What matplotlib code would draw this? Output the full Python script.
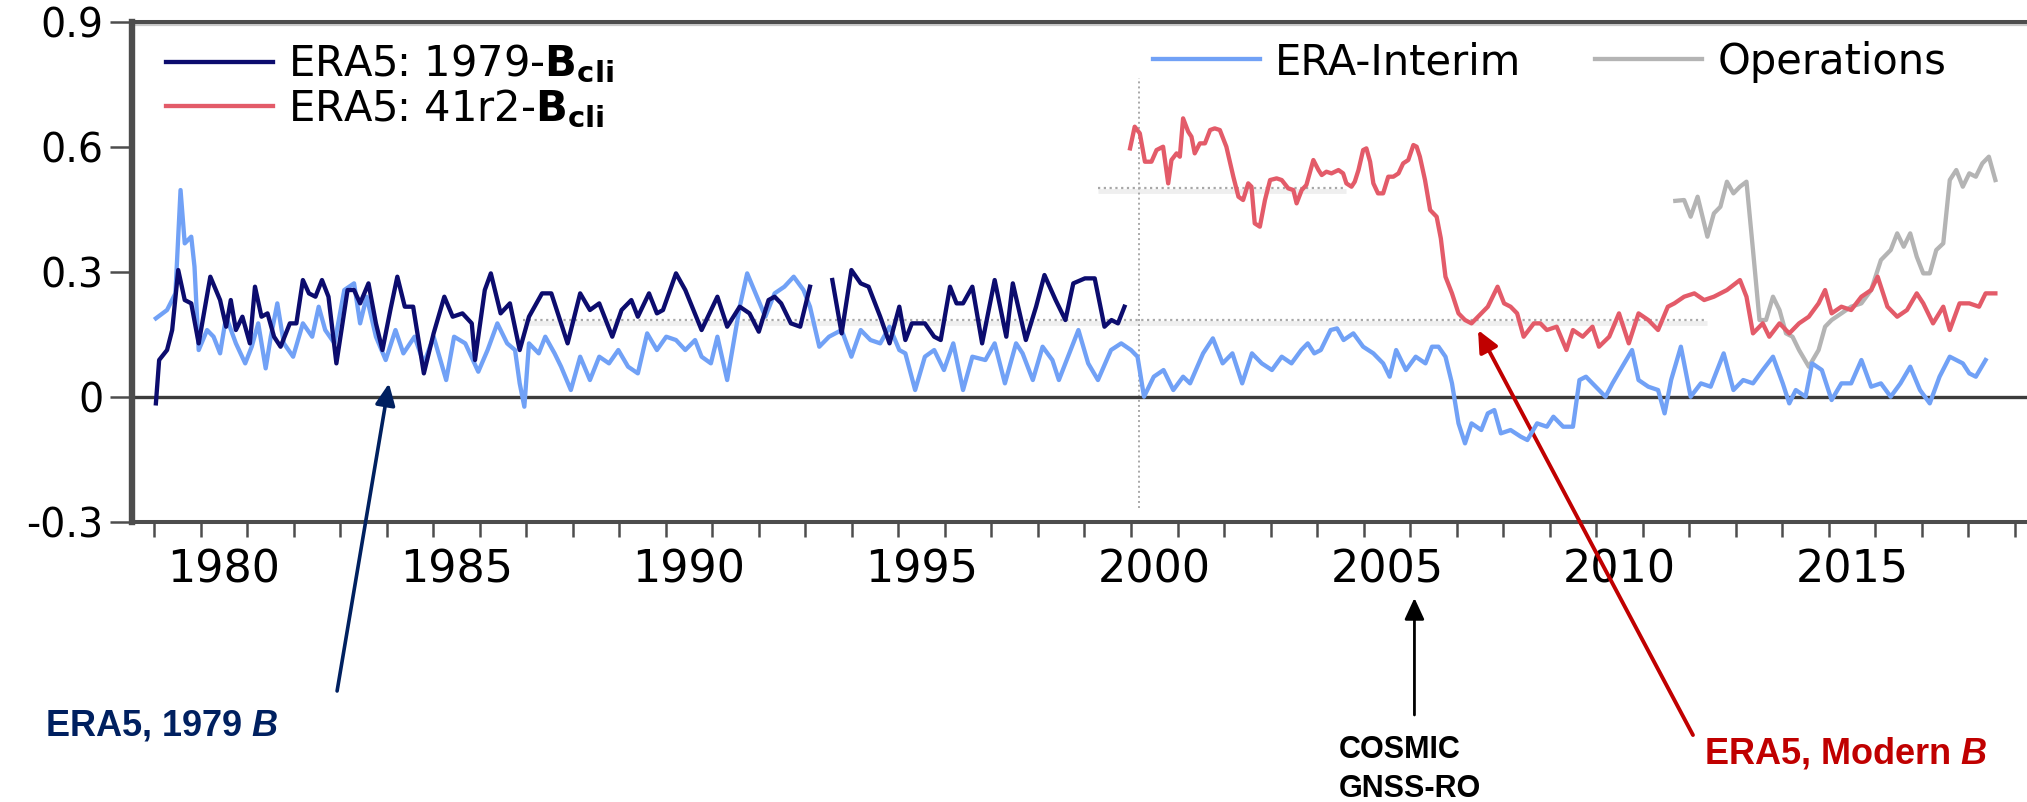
import numpy as np
import matplotlib
matplotlib.use("Agg")
import matplotlib.pyplot as plt

# ---------------------------------------------------------------------------
# Global-mean series (decimal year, value)
# ---------------------------------------------------------------------------
# ERA5 run with the 1979 climatological background-error covariances
era5_1979_year = [
    1979.04, 1979.11, 1979.28, 1979.39, 1979.52, 1979.66, 1979.80, 1979.96,
    1980.21, 1980.42, 1980.55, 1980.65, 1980.76, 1980.90, 1981.06, 1981.17,
    1981.31, 1981.44, 1981.58, 1981.72, 1981.92, 1982.06, 1982.20, 1982.33,
    1982.47, 1982.61, 1982.75, 1982.92, 1983.16, 1983.30, 1983.43, 1983.61,
    1983.77, 1983.91, 1984.08, 1984.23, 1984.39, 1984.57, 1984.80, 1985.01,
    1985.24, 1985.42, 1985.63, 1985.83, 1985.90, 1986.11, 1986.24, 1986.45,
    1986.65, 1986.86, 1987.06, 1987.34, 1987.54, 1987.89, 1988.16, 1988.37,
    1988.57, 1988.85, 1989.05, 1989.26, 1989.40, 1989.64, 1989.81, 1989.94,
    1990.22, 1990.42, 1990.77, 1991.11, 1991.32, 1991.59, 1991.80, 1992.00,
    1992.21, 1992.34, 1992.48, 1992.69, 1992.89, 1993.10, 1993.30, 1993.58,
    1993.78, 1993.99, 1994.19, 1994.36, 1994.61, 1994.81, 1995.02, 1995.15,
    1995.29, 1995.57, 1995.77, 1995.91, 1996.11, 1996.25, 1996.39, 1996.59,
    1996.80, 1997.07, 1997.32, 1997.46, 1997.74, 1997.96, 1998.14, 1998.38,
    1998.59, 1998.76, 1999.01, 1999.22, 1999.43, 1999.58, 1999.72, 1999.86,
]
era5_1979_value = [
    -0.016, 0.088, 0.112, 0.160, 0.304, 0.232, 0.224, 0.128,
    0.288, 0.232, 0.168, 0.232, 0.160, 0.192, 0.128, 0.264,
    0.192, 0.200, 0.144, 0.120, 0.176, 0.176, 0.280, 0.248,
    0.240, 0.280, 0.240, 0.080, 0.256, 0.256, 0.224, 0.272,
    0.176, 0.112, 0.208, 0.288, 0.216, 0.216, 0.056, 0.152,
    0.240, 0.192, 0.200, 0.176, 0.088, 0.256, 0.296, 0.200,
    0.224, 0.112, 0.192, 0.248, 0.248, 0.128, 0.248, 0.208,
    0.224, 0.144, 0.208, 0.232, 0.192, 0.248, 0.200, 0.208,
    0.296, 0.256, 0.160, 0.240, 0.168, 0.216, 0.200, 0.156,
    0.232, 0.240, 0.224, 0.176, 0.168, 0.264, np.nan, 0.280,
    0.152, 0.304, 0.272, 0.264, 0.192, 0.128, 0.216, 0.136,
    0.176, 0.176, 0.144, 0.136, 0.264, 0.224, 0.224, 0.264,
    0.128, 0.280, 0.144, 0.272, 0.136, 0.216, 0.292, 0.232,
    0.184, 0.272, 0.284, 0.284, 0.168, 0.184, 0.176, 0.216,
]

# ERA5 run with the modern (41r2) climatological covariances
era5_41r2_year = [
    1999.98, 2000.08, 2000.19, 2000.30, 2000.44, 2000.55, 2000.69, 2000.80,
    2000.87, 2000.98, 2001.05, 2001.12, 2001.23, 2001.30, 2001.37, 2001.48,
    2001.59, 2001.70, 2001.80, 2001.91, 2002.05, 2002.20, 2002.31, 2002.41,
    2002.52, 2002.59, 2002.66, 2002.77, 2002.88, 2002.99, 2003.13, 2003.24,
    2003.38, 2003.49, 2003.56, 2003.67, 2003.77, 2003.92, 2004.03, 2004.10,
    2004.20, 2004.31, 2004.46, 2004.56, 2004.63, 2004.74, 2004.81, 2004.89,
    2004.99, 2005.06, 2005.14, 2005.21, 2005.31, 2005.42, 2005.53, 2005.64,
    2005.75, 2005.85, 2005.96, 2006.07, 2006.14, 2006.21, 2006.32, 2006.43,
    2006.57, 2006.66, 2006.76, 2006.90, 2007.04, 2007.18, 2007.32, 2007.53,
    2007.67, 2007.88, 2008.02, 2008.16, 2008.30, 2008.44, 2008.66, 2008.80,
    2008.94, 2009.15, 2009.36, 2009.50, 2009.71, 2009.92, 2010.06, 2010.28,
    2010.49, 2010.70, 2010.91, 2011.12, 2011.33, 2011.54, 2011.68, 2011.89,
    2012.11, 2012.32, 2012.53, 2012.81, 2013.09, 2013.23, 2013.37, 2013.58,
    2013.72, 2013.94, 2014.15, 2014.36, 2014.57, 2014.78, 2014.92, 2015.06,
    2015.27, 2015.48, 2015.70, 2015.91, 2016.05, 2016.26, 2016.47, 2016.68,
    2016.89, 2017.03, 2017.24, 2017.46, 2017.60, 2017.81, 2018.02, 2018.23,
    2018.37, 2018.58,
]
era5_41r2_value = [
    0.596, 0.648, 0.632, 0.564, 0.564, 0.592, 0.600, 0.512,
    0.568, 0.584, 0.576, 0.668, 0.636, 0.624, 0.584, 0.608,
    0.608, 0.640, 0.644, 0.640, 0.600, 0.528, 0.480, 0.472,
    0.512, 0.504, 0.416, 0.408, 0.472, 0.520, 0.524, 0.520,
    0.500, 0.496, 0.464, 0.496, 0.508, 0.568, 0.544, 0.532,
    0.540, 0.536, 0.544, 0.536, 0.512, 0.504, 0.516, 0.544,
    0.592, 0.596, 0.564, 0.512, 0.488, 0.488, 0.528, 0.528,
    0.536, 0.560, 0.568, 0.604, 0.600, 0.576, 0.520, 0.448,
    0.432, 0.380, 0.288, 0.248, 0.200, 0.184, 0.176, 0.200,
    0.216, 0.264, 0.224, 0.216, 0.200, 0.144, 0.176, 0.176,
    0.160, 0.168, 0.112, 0.160, 0.144, 0.168, 0.120, 0.144,
    0.200, 0.128, 0.200, 0.184, 0.160, 0.216, 0.224, 0.240,
    0.248, 0.232, 0.240, 0.256, 0.280, 0.240, 0.152, 0.176,
    0.144, 0.176, 0.152, 0.176, 0.192, 0.224, 0.256, 0.200,
    0.216, 0.208, 0.240, 0.256, 0.288, 0.216, 0.192, 0.208,
    0.248, 0.224, 0.176, 0.216, 0.160, 0.224, 0.224, 0.216,
    0.248, 0.248,
]

# ERA-Interim
erai_year = [
    1979.04, 1979.28, 1979.46, 1979.57, 1979.66, 1979.80, 1979.87, 1979.96,
    1980.14, 1980.28, 1980.42, 1980.55, 1980.76, 1980.96, 1981.10, 1981.24,
    1981.40, 1981.51, 1981.65, 1981.79, 1981.99, 1982.20, 1982.40, 1982.54,
    1982.68, 1982.88, 1983.09, 1983.30, 1983.43, 1983.57, 1983.77, 1983.98,
    1984.19, 1984.36, 1984.60, 1984.80, 1985.01, 1985.28, 1985.45, 1985.69,
    1985.97, 1986.17, 1986.38, 1986.59, 1986.76, 1986.86, 1986.96, 1987.06,
    1987.27, 1987.41, 1987.61, 1987.75, 1987.96, 1988.16, 1988.37, 1988.57,
    1988.78, 1988.98, 1989.19, 1989.40, 1989.60, 1989.81, 1990.01, 1990.22,
    1990.42, 1990.63, 1990.77, 1990.97, 1991.11, 1991.32, 1991.59, 1991.75,
    1991.93, 1992.14, 1992.34, 1992.55, 1992.75, 1992.96, 1993.10, 1993.30,
    1993.51, 1993.78, 1993.99, 1994.19, 1994.40, 1994.61, 1994.81, 1995.02,
    1995.15, 1995.36, 1995.57, 1995.77, 1995.98, 1996.18, 1996.39, 1996.59,
    1996.87, 1997.07, 1997.29, 1997.53, 1997.67, 1997.89, 1998.10, 1998.31,
    1998.45, 1998.73, 1998.87, 1999.08, 1999.29, 1999.57, 1999.79, 2000.00,
    2000.14, 2000.28, 2000.49, 2000.70, 2000.91, 2001.12, 2001.27, 2001.55,
    2001.76, 2001.97, 2002.18, 2002.39, 2002.60, 2002.81, 2003.03, 2003.24,
    2003.45, 2003.66, 2003.80, 2003.94, 2004.08, 2004.29, 2004.43, 2004.57,
    2004.78, 2004.99, 2005.21, 2005.42, 2005.56, 2005.70, 2005.91, 2006.12,
    2006.33, 2006.47, 2006.61, 2006.76, 2006.90, 2007.04, 2007.18, 2007.32,
    2007.53, 2007.67, 2007.81, 2007.95, 2008.16, 2008.38, 2008.52, 2008.73,
    2008.94, 2009.08, 2009.29, 2009.50, 2009.64, 2009.78, 2009.99, 2010.20,
    2010.35, 2010.56, 2010.77, 2010.91, 2011.12, 2011.33, 2011.47, 2011.61,
    2011.82, 2012.03, 2012.25, 2012.46, 2012.74, 2012.95, 2013.16, 2013.37,
    2013.58, 2013.80, 2014.01, 2014.15, 2014.29, 2014.50, 2014.64, 2014.85,
    2015.06, 2015.27, 2015.48, 2015.70, 2015.91, 2016.12, 2016.33, 2016.54,
    2016.75, 2016.96, 2017.17, 2017.38, 2017.60, 2017.88, 2018.02, 2018.16,
    2018.37,
]
erai_value = [
    0.188, 0.208, 0.248, 0.496, 0.368, 0.384, 0.312, 0.112,
    0.160, 0.144, 0.104, 0.192, 0.128, 0.080, 0.120, 0.176,
    0.068, 0.144, 0.224, 0.128, 0.096, 0.176, 0.144, 0.216,
    0.160, 0.128, 0.256, 0.272, 0.176, 0.240, 0.144, 0.088,
    0.160, 0.104, 0.144, 0.080, 0.144, 0.040, 0.144, 0.128,
    0.060, 0.112, 0.176, 0.128, 0.112, 0.032, -0.024, 0.128,
    0.104, 0.144, 0.104, 0.072, 0.016, 0.096, 0.040, 0.096,
    0.080, 0.112, 0.072, 0.056, 0.152, 0.112, 0.144, 0.136,
    0.112, 0.136, 0.096, 0.080, 0.144, 0.040, 0.216, 0.296,
    0.248, 0.192, 0.248, 0.264, 0.288, 0.256, 0.216, 0.120,
    0.144, 0.160, 0.096, 0.160, 0.136, 0.128, 0.168, 0.112,
    0.104, 0.016, 0.096, 0.112, 0.064, 0.128, 0.016, 0.096,
    0.088, 0.128, 0.032, 0.128, 0.104, 0.040, 0.120, 0.088,
    0.040, 0.120, 0.160, 0.080, 0.040, 0.112, 0.128, 0.112,
    0.096, 0.000, 0.048, 0.064, 0.016, 0.048, 0.032, 0.104,
    0.140, 0.080, 0.104, 0.032, 0.104, 0.080, 0.064, 0.096,
    0.080, 0.112, 0.128, 0.104, 0.112, 0.160, 0.164, 0.136,
    0.152, 0.120, 0.104, 0.080, 0.048, 0.112, 0.064, 0.096,
    0.080, 0.120, 0.120, 0.096, 0.032, -0.064, -0.112, -0.064,
    -0.080, -0.040, -0.032, -0.088, -0.080, -0.096, -0.104, -0.064,
    -0.072, -0.048, -0.072, -0.072, 0.040, 0.048, 0.024, 0.000,
    0.032, 0.072, 0.112, 0.040, 0.024, 0.016, -0.040, 0.040,
    0.120, 0.000, 0.032, 0.024, 0.104, 0.016, 0.040, 0.032,
    0.064, 0.096, 0.032, -0.016, 0.016, 0.000, 0.080, 0.064,
    -0.008, 0.032, 0.032, 0.088, 0.024, 0.032, 0.000, 0.032,
    0.072, 0.016, -0.016, 0.048, 0.096, 0.080, 0.056, 0.048,
    0.088,
]

# Operational analyses
ops_year = [
    2011.70, 2011.89, 2012.03, 2012.18, 2012.39, 2012.53, 2012.67, 2012.81,
    2012.95, 2013.09, 2013.23, 2013.37, 2013.51, 2013.65, 2013.80, 2013.94,
    2014.08, 2014.22, 2014.36, 2014.57, 2014.78, 2014.92, 2015.06, 2015.27,
    2015.48, 2015.70, 2015.91, 2016.12, 2016.33, 2016.47, 2016.61, 2016.75,
    2016.89, 2017.03, 2017.17, 2017.31, 2017.46, 2017.60, 2017.74, 2017.88,
    2018.02, 2018.16, 2018.30, 2018.44, 2018.58,
]
ops_value = [
    0.470, 0.472, 0.432, 0.480, 0.384, 0.440, 0.456, 0.516,
    0.488, 0.504, 0.516, 0.352, 0.184, 0.184, 0.240, 0.208,
    0.152, 0.144, 0.112, 0.072, 0.112, 0.168, 0.184, 0.200,
    0.216, 0.224, 0.256, 0.328, 0.352, 0.392, 0.360, 0.392,
    0.336, 0.296, 0.296, 0.352, 0.368, 0.520, 0.544, 0.504,
    0.536, 0.528, 0.560, 0.576, 0.520,
]

# Reference (dotted) guides: level, start year, end year
guide_levels = [0.50, 0.183]
guide_starts = [1999.30, 1986.93]
guide_ends = [2004.63, 2012.39]
guide_vline_year = 2000.17
guide_vline_span = [-0.267, 0.765]

y_ticks = [-0.3, 0.0, 0.3, 0.6, 0.9]
y_tick_labels = ["-0.3", "0", "0.3", "0.6", "0.9"]
x_label_years = [1980, 1985, 1990, 1995, 2000, 2005, 2010, 2015]

# ---------------------------------------------------------------------------
plt.rcParams["font.family"] = ["DejaVu Sans"]
plt.rcParams["mathtext.fontset"] = "custom"
plt.rcParams["mathtext.rm"] = "DejaVu Sans"
plt.rcParams["mathtext.bf"] = "DejaVu Sans:bold"
plt.rcParams["mathtext.it"] = "Liberation Sans:italic:bold"

NAVY = "#0c0c6e"
LIGHT_BLUE = "#71a1f6"
RED = "#e35b69"
GREY = "#b4b4b4"
AXIS = "#4d4d4d"
GUIDE = "#a8a8a8"

fig = plt.figure(figsize=(20.27, 8.02), dpi=100)
ax = fig.add_axes([0.06497, 0.3495, 0.93503, 0.62344])
ax.set_xlim(1978.52, 2019.26)
ax.set_ylim(-0.3, 0.9)

lw = 3.1
ax.plot(ops_year, ops_value, color=GREY, lw=lw, zorder=3, label="Operations")
ax.plot(erai_year, erai_value, color=LIGHT_BLUE, lw=lw, zorder=4,
        label="ERA-Interim")
ax.plot(era5_41r2_year, era5_41r2_value, color=RED, lw=lw, zorder=5,
        label=r"ERA5: 41r2-$\mathbf{B_{cli}}$")
ax.plot(era5_1979_year, era5_1979_value, color=NAVY, lw=lw, zorder=6,
        label=r"ERA5: 1979-$\mathbf{B_{cli}}$")

# zero line
ax.axhline(0.0, color="#3c3c3c", lw=2.4, zorder=2)

# dotted guides
dot = (0, (1.0, 1.6))
for lev, x0, x1 in zip(guide_levels, guide_starts, guide_ends):
    ax.plot([x0, x1], [lev - 0.006, lev - 0.006], color="#efefef", lw=3.5,
            zorder=1, solid_capstyle="butt")
    ax.plot([x0, x1], [lev, lev], color=GUIDE, lw=1.6, ls=dot, zorder=1)
ax.plot([guide_vline_year] * 2, guide_vline_span, color=GUIDE, lw=1.4,
        ls=dot, zorder=1)

# spines
ax.spines["right"].set_visible(False)
ax.spines["left"].set_linewidth(4.6)
ax.spines["top"].set_linewidth(2.9)
ax.spines["bottom"].set_linewidth(2.9)
for side in ("left", "top", "bottom"):
    ax.spines[side].set_color(AXIS)
ax.axhline(0.892, color="#c9c9c9", lw=1.6, zorder=1)

# y axis
ax.set_yticks(y_ticks)
ax.set_yticklabels(y_tick_labels)
ax.tick_params(axis="y", which="major", length=15.5, width=1.8, color=AXIS,
               pad=5, labelsize=28.5, direction="out")

# x axis: yearly ticks, labels centred within the labelled year
ax.set_xticks(np.arange(1979, 2020))
ax.set_xticklabels([])
ax.tick_params(axis="x", which="major", length=11, width=1.8, color=AXIS,
               direction="out")
ax.set_xticks([y + 0.5 for y in x_label_years], minor=True)
ax.set_xticklabels([str(y) for y in x_label_years], minor=True)
ax.tick_params(axis="x", which="minor", length=0, pad=19, labelsize=32)

# legends
handles, labels = ax.get_legend_handles_labels()
hmap = dict(zip(labels, handles))
left_labels = [r"ERA5: 1979-$\mathbf{B_{cli}}$", r"ERA5: 41r2-$\mathbf{B_{cli}}$"]
leg1 = ax.legend([hmap[k] for k in left_labels], left_labels,
                 loc="center left", bbox_to_anchor=(0.0181, 0.8704),
                 frameon=False, fontsize=30, handlelength=2.57,
                 handletextpad=0.36, labelspacing=0.05, borderpad=0,
                 borderaxespad=0)
ax.add_artist(leg1)
right_labels = ["ERA-Interim", "Operations"]
ax.legend([hmap[k] for k in right_labels], right_labels, ncol=2,
          loc="center left", bbox_to_anchor=(0.5389, 0.9194),
          frameon=False, fontsize=30, handlelength=2.57, handletextpad=0.36,
          columnspacing=1.77, borderpad=0, borderaxespad=0)

# annotations below the axes
arrow_kw = dict(shrinkA=0, shrinkB=0, mutation_scale=10)
head = "-|>,head_length=1.3,head_width=0.6"
ax.annotate("", xy=(1984.05, 0.032), xycoords="data",
            xytext=(0.1663, 0.1384), textcoords="figure fraction",
            annotation_clip=False,
            arrowprops=dict(arrowstyle=head, color="#002060", lw=2.6,
                            **arrow_kw))
ax.annotate("", xy=(2007.46, 0.16), xycoords="data",
            xytext=(0.8352, 0.0835), textcoords="figure fraction",
            annotation_clip=False,
            arrowprops=dict(arrowstyle=head, color="#c00000", lw=2.8,
                            **arrow_kw))
ax.annotate("", xy=(0.6978, 0.2544), xycoords="figure fraction",
            xytext=(0.6978, 0.1085), textcoords="figure fraction",
            annotation_clip=False,
            arrowprops=dict(arrowstyle=head, color="black", lw=2.0,
                            **arrow_kw))

note_kw = dict(family="Liberation Sans", weight="bold", va="baseline",
               ha="left")
fig.text(0.0222, 0.0823, r"ERA5, 1979 $B$", color="#002060", fontsize=26,
         **note_kw)
fig.text(0.8407, 0.0486, r"ERA5, Modern $B$", color="#c00000", fontsize=26,
         **note_kw)
fig.text(0.6606, 1 - 758 / 802, "COSMIC", color="black", fontsize=22,
         **note_kw)
fig.text(0.6606, 1 - 797 / 802, "GNSS-RO", color="black", fontsize=22,
         **note_kw)

fig.savefig("out.png", dpi=100, facecolor="white")
